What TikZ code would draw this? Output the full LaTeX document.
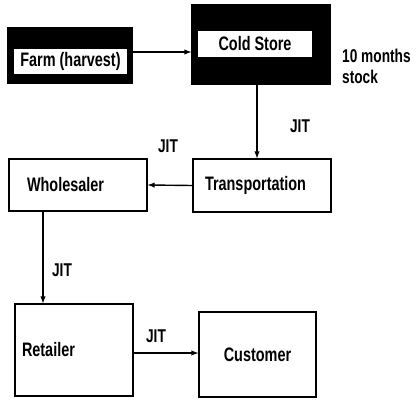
\documentclass[tikz,border=0pt]{standalone}
\usepackage{fontspec}
\setmainfont{Liberation Sans}[FakeStretch=0.74]
\tikzset{
  stage/.style={draw, line width=1.3pt, fill=white, inner sep=0pt,
    font=\bfseries\fontsize{19.5}{21}\selectfont},
  shell/.style={draw, fill=black, line width=1.3pt, inner sep=0pt},
  tag/.style={font=\bfseries\fontsize{18.5}{21}\selectfont, inner sep=0pt},
  flow/.style={->, line width=1.4pt}
}
\begin{document}
\begin{tikzpicture}[>=latex, x=1pt, y=-1pt]
            \useasboundingbox (0,0) rectangle (417,399);
            % black frames
            \node[shell, minimum width=124pt, minimum height=55pt] (farmout) at (70,55.5) {};
            \node[shell, minimum width=138pt, minimum height=79pt] (coldout) at (261,44.5) {};
            \node[stage, minimum width=115pt, minimum height=27pt] (farm) at (70.5,61.5) {Farm (harvest)};
            \node[stage, minimum width=116pt, minimum height=28pt] (cold) at (255,44) {Cold Store};
            % plain boxes
            \node[stage, minimum height=53pt, text width=114pt, inner xsep=12pt, align=left] (trans) at (262,185.5) {Transportation};
            \node[stage, minimum height=52pt, text width=102pt, inner xsep=18pt, align=left] (whole) at (78,185) {Wholesaler};
            \node[stage, minimum height=92pt, text width=104pt, inner xsep=7pt, align=left] (ret) at (74,350) {Retailer};
            \node[stage, minimum width=117pt, minimum height=85pt] (cust) at (257.5,354.5) {Customer};
            \node[tag, anchor=north west, align=left] (stock) at (342,49) {10 months\\stock};
            % flows
            \draw[flow] ([yshift=3.5pt]farmout.east) coordinate (f1) -- (f1 -| coldout.west);
            \draw[flow] ([xshift=-4pt]coldout.south) coordinate (c1) -- (c1 |- trans.north);
            \draw[flow] (trans.west) -- (whole.east);
            \draw[flow] ([xshift=-35pt]whole.south) coordinate (w1) -- (w1 |- ret.north);
            \draw[flow] ([yshift=-3pt]ret.east) coordinate (r1) -- (r1 -| cust.west);
            \node[tag] (jit1) at (300,126) {JIT};
            \node[tag] (jit2) at (168,146) {JIT};
            \node[tag] (jit3) at (62,270) {JIT};
            \node[tag] (jit4) at (156,336) {JIT};
        \end{tikzpicture}
\end{document}
